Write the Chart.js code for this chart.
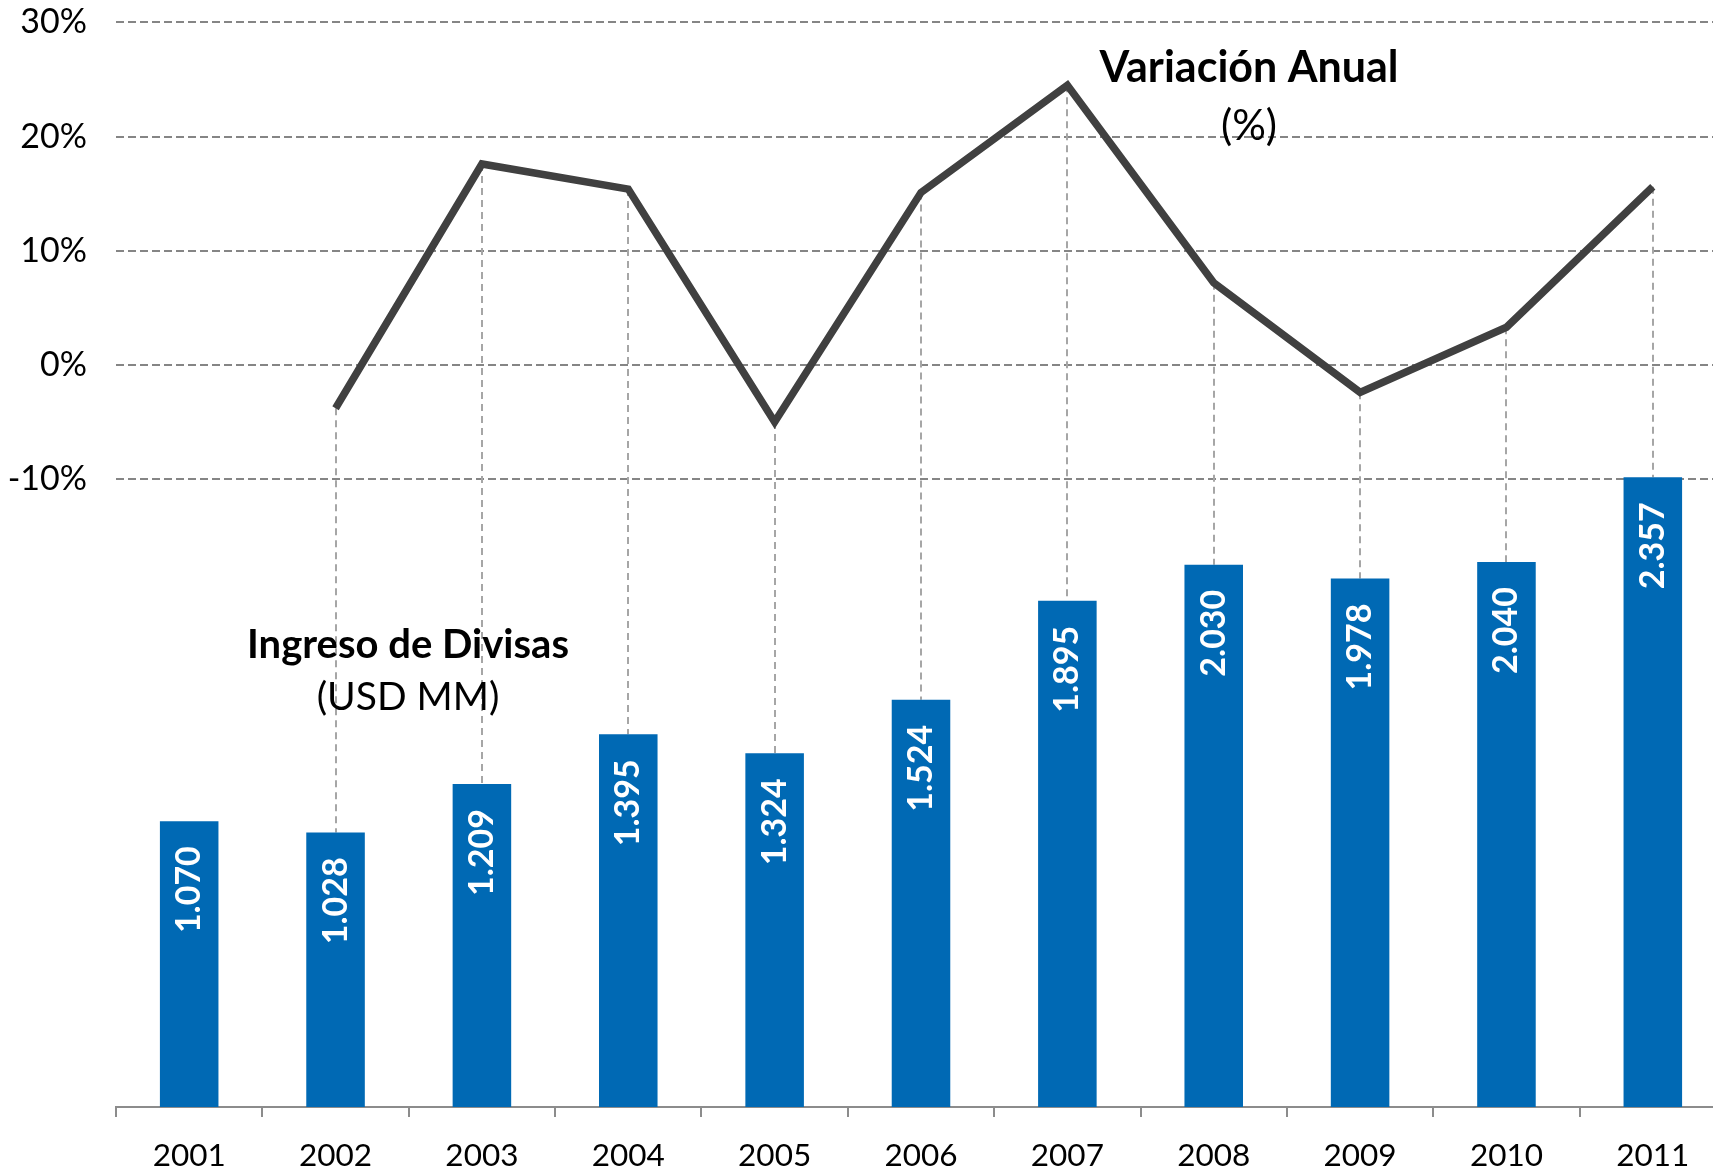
<!DOCTYPE html>
<html>
<head>
<meta charset="utf-8">
<script src="https://cdn.jsdelivr.net/npm/chart.js@4.4.1/dist/chart.umd.min.js"></script>
<style>
    html, body { margin: 0; padding: 0; overflow: hidden; background: #fff; }
    /* chart is wider than the window: the last category is cut at the right edge */
    #wrap { width: 1726px; height: 1197px; position: absolute; left: 0; top: -27px; }
</style>
</head>
<body>
<div id="wrap"><canvas id="ingresoChart"></canvas></div>
<script>
// values
var years = ['2001', '2002', '2003', '2004', '2005', '2006', '2007', '2008', '2009', '2010', '2011'];
var ingresos = [1070, 1028, 1209, 1395, 1324, 1524, 1895, 2030, 1978, 2040, 2357];
var variacion = [null, -3.8, 17.6, 15.4, -5.0, 15.1, 24.5, 7.2, -2.4, 3.3, 15.6];
var pctTicks = [-10, 0, 10, 20, 30];

Chart.defaults.font.family = 'Lato, "Noto Sans", sans-serif';
Chart.defaults.color = '#000';

// 1.070 style numbers
function fmtMiles(v) {
    var s = String(v % 1000);
    while (s.length < 3) s = '0' + s;
    return Math.floor(v / 1000) + '.' + s;
}

// dashed drop lines from the line down to the bars
var dropLines = {
    id: 'dropLines',
    beforeDatasetsDraw: function (chart) {
        var ctx = chart.ctx;
        var xs = chart.scales.x, yp = chart.scales.y, yb = chart.scales.yBar;
        ctx.save();
        ctx.strokeStyle = '#a6a6a6';
        ctx.lineWidth = 2;
        ctx.setLineDash([7, 5]);
        variacion.forEach(function (v, i) {
            if (v === null) return;
            var x = Math.round(xs.getPixelForValue(i));
            ctx.beginPath();
            ctx.moveTo(x, yp.getPixelForValue(v));
            ctx.lineTo(x, yb.getPixelForValue(ingresos[i]));
            ctx.stroke();
        });
        ctx.restore();
    }
};

// rotated white labels inside the bars
var barLabels = {
    id: 'barLabels',
    afterDatasetsDraw: function (chart) {
        var ctx = chart.ctx;
        var meta = chart.getDatasetMeta(1);
        ctx.save();
        ctx.fillStyle = '#fff';
        ctx.font = 'bold 34px Lato';
        ctx.textAlign = 'right';
        ctx.textBaseline = 'middle';
        meta.data.forEach(function (bar, i) {
            ctx.save();
            ctx.translate(bar.x, bar.y + 25);
            ctx.rotate(-Math.PI / 2);
            ctx.fillText(fmtMiles(ingresos[i]), 0, 0);
            ctx.restore();
        });
        ctx.restore();
    }
};

// the two text captions (page coords, canvas is shifted 27px up)
var captions = {
    id: 'captions',
    afterDraw: function (chart) {
        var ctx = chart.ctx;
        var dy = 27;
        ctx.save();
        ctx.fillStyle = '#000';
        ctx.textAlign = 'center';
        ctx.textBaseline = 'middle';
        ctx.font = 'bold 43px Lato';
        ctx.fillText('Variación Anual', 1249, 68 + dy);
        ctx.font = 'bold 40px Lato';
        ctx.fillText('Ingreso de Divisas', 408, 645 + dy);
        ctx.font = '42px Lato';
        ctx.fillText('(%)', 1249, 126 + dy);
        ctx.font = '39px Lato';
        ctx.fillText('(USD MM)', 408, 697 + dy);
        ctx.restore();
    }
};

var ctxC = document.getElementById('ingresoChart').getContext('2d');
var myChart = new Chart(ctxC, {
    data: {
        labels: years,
        datasets: [{
            type: 'line',
            label: 'Variación Anual (%)',
            data: variacion,
            yAxisID: 'y',
            borderColor: '#404040',
            borderWidth: 7.5,
            borderJoinStyle: 'miter',
            pointRadius: 0,
            tension: 0,
            order: 1
        }, {
            type: 'bar',
            label: 'Ingreso de Divisas (USD MM)',
            data: ingresos,
            yAxisID: 'yBar',
            backgroundColor: '#0069b4',
            barPercentage: 0.4,
            categoryPercentage: 1.0,
            order: 2
        }]
    },
    options: {
        responsive: true,
        maintainAspectRatio: false,
        animation: false,
        layout: { autoPadding: false, padding: { top: 21, right: 0, bottom: 0, left: 0 } },
        plugins: {
            legend: { display: false },
            tooltip: { enabled: false }
        },
        scales: {
            x: {
                type: 'category',
                grid: {
                    drawOnChartArea: false,
                    drawTicks: true,
                    tickLength: 10,
                    offset: true,
                    color: '#8c8c8c',
                    lineWidth: 2
                },
                border: { display: true, color: '#8c8c8c', width: 2 },
                ticks: { font: { size: 31.5 }, color: '#000', padding: 20, maxRotation: 0 },
                afterFit: function (scale) { scale.height = 63; }
            },
            y: {
                position: 'left',
                min: -65,
                max: 30,
                afterBuildTicks: function (scale) {
                    scale.ticks = pctTicks.map(function (v) { return { value: v }; });
                },
                afterFit: function (scale) { scale.width = 116; },
                grid: { color: '#858585', lineWidth: 2, drawTicks: false },
                border: { display: false, dash: [8, 4] },
                ticks: {
                    font: { size: 34 },
                    color: '#000',
                    padding: 29,
                    callback: function (v) { return v + '%'; }
                }
            },
            yBar: {
                display: false,
                min: 0,
                max: 4060
            }
        }
    },
    plugins: [dropLines, barLabels, captions]
});
</script>
</body>
</html>
